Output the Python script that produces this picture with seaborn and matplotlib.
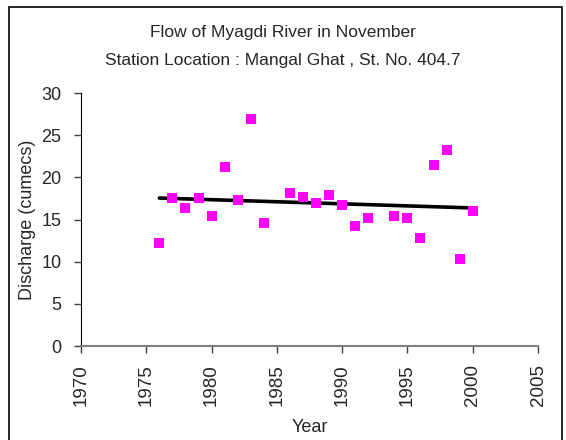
import numpy as np
import pandas as pd
import matplotlib
matplotlib.use("Agg")
import matplotlib.pyplot as plt
import matplotlib.patches as patches
import seaborn as sns

# data
years = [1976, 1977, 1978, 1979, 1980, 1981, 1982, 1983, 1984,
         1986, 1987, 1988, 1989, 1990, 1991, 1992,
         1994, 1995, 1996, 1997, 1998, 1999, 2000]
discharge = [12.2, 17.5, 16.4, 17.5, 15.4, 21.2, 17.3, 26.9, 14.6,
             18.1, 17.7, 16.9, 17.9, 16.7, 14.2, 15.2,
             15.4, 15.2, 12.8, 21.5, 23.2, 10.3, 16.0]
x_ticks = [1970, 1975, 1980, 1985, 1990, 1995, 2000, 2005]
y_ticks = [0, 5, 10, 15, 20, 25, 30]

df = pd.DataFrame({"Year": years, "Discharge": discharge})

sns.set_style("white")
plt.rcParams["font.family"] = ["Liberation Sans", "DejaVu Sans"]

fig = plt.figure(figsize=(5.66, 4.40), dpi=100)
ax = fig.add_axes([81 / 566, 1 - 346 / 440, (538 - 81) / 566, (346 - 93) / 440])

sns.scatterplot(data=df, x="Year", y="Discharge", marker="s", color="#ff00ff",
                s=52, edgecolor="none", ax=ax, zorder=3)
sns.regplot(data=df, x="Year", y="Discharge", scatter=False, ci=None,
            color="black", line_kws={"lw": 2.6}, ax=ax)

ax.set_xlim(1970, 2005)
ax.set_ylim(0, 30)
ax.set_xticks(x_ticks)
ax.set_yticks(y_ticks)
ax.set_xticklabels([str(v) for v in x_ticks], rotation=90, fontsize=13.5)
ax.set_yticklabels([str(v) for v in y_ticks], fontsize=13)
ax.tick_params(axis="both", direction="out", length=5, width=1, color="#404040",
               bottom=True, left=True)
ax.tick_params(axis="x", pad=8)
ax.tick_params(axis="y", pad=9)

for side in ["top", "right"]:
    ax.spines[side].set_visible(False)
ax.spines["left"].set_color("black")
ax.spines["bottom"].set_color("#7f7f7f")
ax.spines["bottom"].set_linewidth(1.5)

ax.set_xlabel("Year", fontsize=13)
ax.set_ylabel("Discharge (cumecs)", fontsize=13)
ax.xaxis.set_label_coords(0.5, (346 - 419) / 253)
ax.yaxis.set_label_coords((36 - 81) / 457, 0.5)

fig.text(0.5, 1 - 33 / 440, "Flow of Myagdi River in November",
         ha="center", va="center", fontsize=12.5)
fig.text(0.5, 1 - 60 / 440, "Station Location : Mangal Ghat , St. No. 404.7",
         ha="center", va="center", fontsize=12.5)

# outer chart frame
fig.patches.append(patches.Rectangle((8.5 / 566, -0.02), (562 - 8.5) / 566, 1 - 7.5 / 440 + 0.02,
                                     transform=fig.transFigure, fill=False,
                                     edgecolor="black", lw=1.2))

fig.savefig("out.png", dpi=100)
